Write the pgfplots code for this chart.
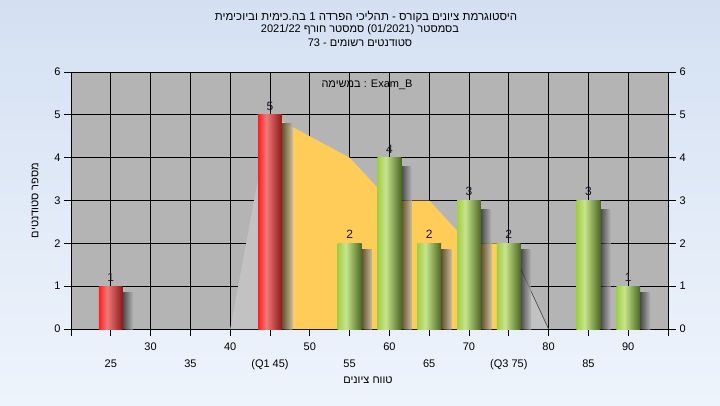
\documentclass[border=0pt]{standalone}
\usepackage{pgfplots}
\pgfplotsset{compat=1.18}
\usepackage{fontspec}
\setmainfont{Liberation Sans}
\newfontfamily\heb[Script=Hebrew]{Liberation Sans}
\TeXXeTstate=1
\definecolor{bgtop}{RGB}{212,224,242}
\definecolor{bgbot}{RGB}{238,244,252}
\definecolor{plotbg}{RGB}{180,180,180}
\definecolor{areagray}{RGB}{194,194,194}
\definecolor{areayel}{RGB}{255,204,90}
\definecolor{rL}{RGB}{255,30,30}
\definecolor{rM}{RGB}{240,120,120}
\definecolor{rR}{RGB}{140,26,26}
\definecolor{gL}{RGB}{160,206,70}
\definecolor{gM}{RGB}{200,228,140}
\definecolor{gR}{RGB}{74,104,34}
\definecolor{shD}{RGB}{30,30,30}
\definecolor{lbl}{RGB}{20,20,40}
\pgfdeclarehorizontalshading{redbar}{100bp}{color(0bp)=(rL); color(25bp)=(rL); color(42bp)=(rM); color(75bp)=(rR); color(100bp)=(rR)}
\pgfdeclarehorizontalshading{greenbar}{100bp}{color(0bp)=(gL); color(25bp)=(gL); color(42bp)=(gM); color(75bp)=(gR); color(100bp)=(gR)}
\pgfdeclarehorizontalshading{shadowsh}{100bp}{color(0bp)=(shD); color(25bp)=(shD); color(75bp)=(plotbg); color(100bp)=(plotbg)}
\newcommand{\sbar}[2]{\addplot[ybar, bar width=1.3, bar shift=2.15, shading=shadowsh, fill opacity=0.7, draw=none] coordinates {(#1,#2)};}
\newcommand{\rbar}[2]{\addplot[ybar, bar width=3, shading=redbar, draw=none, nodes near coords] coordinates {(#1,#2)};}
\newcommand{\gbar}[2]{\addplot[ybar, bar width=3, shading=greenbar, draw=none, nodes near coords] coordinates {(#1,#2)};}
\begin{document}
\begin{tikzpicture}
\shade[top color=bgtop, bottom color=bgbot] (0pt,0pt) rectangle (720pt,405pt);
\node[font=\fontsize{11.5}{13}\selectfont\heb] at (366pt,388pt) {\beginR היסטוגרמת ציונים בקורס - תהליכי הפרדה \beginL1\endL{} בה.כימית וביוכימית\endR};
\node[font=\fontsize{11}{13}\selectfont\heb] at (360pt,375pt) {\beginR בסמסטר \beginL(01/2021)\endL{} סמסטר חורף \beginL2021/22\endL\endR};
\node[font=\fontsize{11}{13}\selectfont\heb] at (360pt,362pt) {\beginR סטודנטים רשומים - \beginL73\endL\endR};
\begin{axis}[
  at={(71pt,76pt)}, anchor=south west,
  width=597pt, height=257pt, scale only axis,
  xmin=20, xmax=95, ymin=0, ymax=6,
  axis background/.style={fill=plotbg},
  xtick={20,30,40,50,60,70,80,90},
  xticklabels={,30,40,50,60,70,80,90},
  xticklabel style={yshift=-3pt},
  extra x ticks={25,35,45,55,65,75,85,95},
  extra x tick labels={25,35,(Q1 45),55,65,(Q3 75),85,},
  extra x tick style={tick label style={yshift=-17pt}, grid=major},
  ytick={0,1,2,3,4,5,6},
  grid=major,
  major grid style={black, line width=0.8pt},
  tick align=outside,
  major tick length=7pt,
  xtick pos=bottom, ytick pos=left,
  tick style={black, line width=0.8pt},
  axis line style={black, line width=0.8pt},
  ticklabel style={font=\fontsize{11}{13}\selectfont},
  /pgf/number format/assume math mode=true,
  ylabel={\heb\beginR מספר סטודנטים\endR},
  label style={font=\fontsize{11}{13}\selectfont},
  ylabel style={yshift=9pt},
  nodes near coords style={font=\fontsize{12}{14}\selectfont, text=lbl, yshift=1pt},
]
\addplot[fill=areagray, draw=none] coordinates {(40,0) (45,5) (45,0)} -- cycle;
\addplot[fill=areagray, draw=none] coordinates {(75,0) (75,2) (80,0)} -- cycle;
\addplot[draw=black!75, line width=0.6pt] coordinates {(75,2) (80,0)};
\addplot[fill=areayel, draw=none] coordinates {(45,0) (45,5) (55,4) (60,3) (65,3) (70,2) (75,2) (75,0)} -- cycle;
% shadows
\sbar{25}{0.85}
\sbar{45}{4.8}
\sbar{55}{1.85}
\sbar{60}{3.8}
\sbar{65}{1.85}
\sbar{70}{2.8}
\sbar{75}{1.85}
\sbar{85}{2.8}
\sbar{90}{0.85}
% red bars
\rbar{25}{1}
\rbar{45}{5}
% green bars
\gbar{55}{2}
\gbar{60}{4}
\gbar{65}{2}
\gbar{70}{3}
\gbar{75}{2}
\gbar{85}{3}
\gbar{90}{1}
\end{axis}
\begin{axis}[
  at={(71pt,76pt)}, anchor=south west,
  width=597pt, height=257pt, scale only axis,
  xmin=20, xmax=95, ymin=0, ymax=6,
  axis x line=none, axis y line*=right,
  ytick={0,1,2,3,4,5,6},
  tick align=outside, major tick length=8pt,
  tick style={black, line width=0.8pt},
  axis line style={black, line width=0.8pt, -},
  ticklabel style={font=\fontsize{11}{13}\selectfont},
  /pgf/number format/assume math mode=true,
]
\addplot[draw=none] coordinates {(20,0) (95,6)};
\end{axis}
\node[font=\fontsize{11}{13}\selectfont] at (367pt,320pt) {\heb\beginR במשימה\endR{} : Exam\_B};
\node[font=\fontsize{11}{13}\selectfont\heb] at (368pt,25pt) {\beginR טווח ציונים\endR};
\pgfresetboundingbox
\useasboundingbox (0pt,0pt) rectangle (720pt,405pt);
\end{tikzpicture}
\end{document}
